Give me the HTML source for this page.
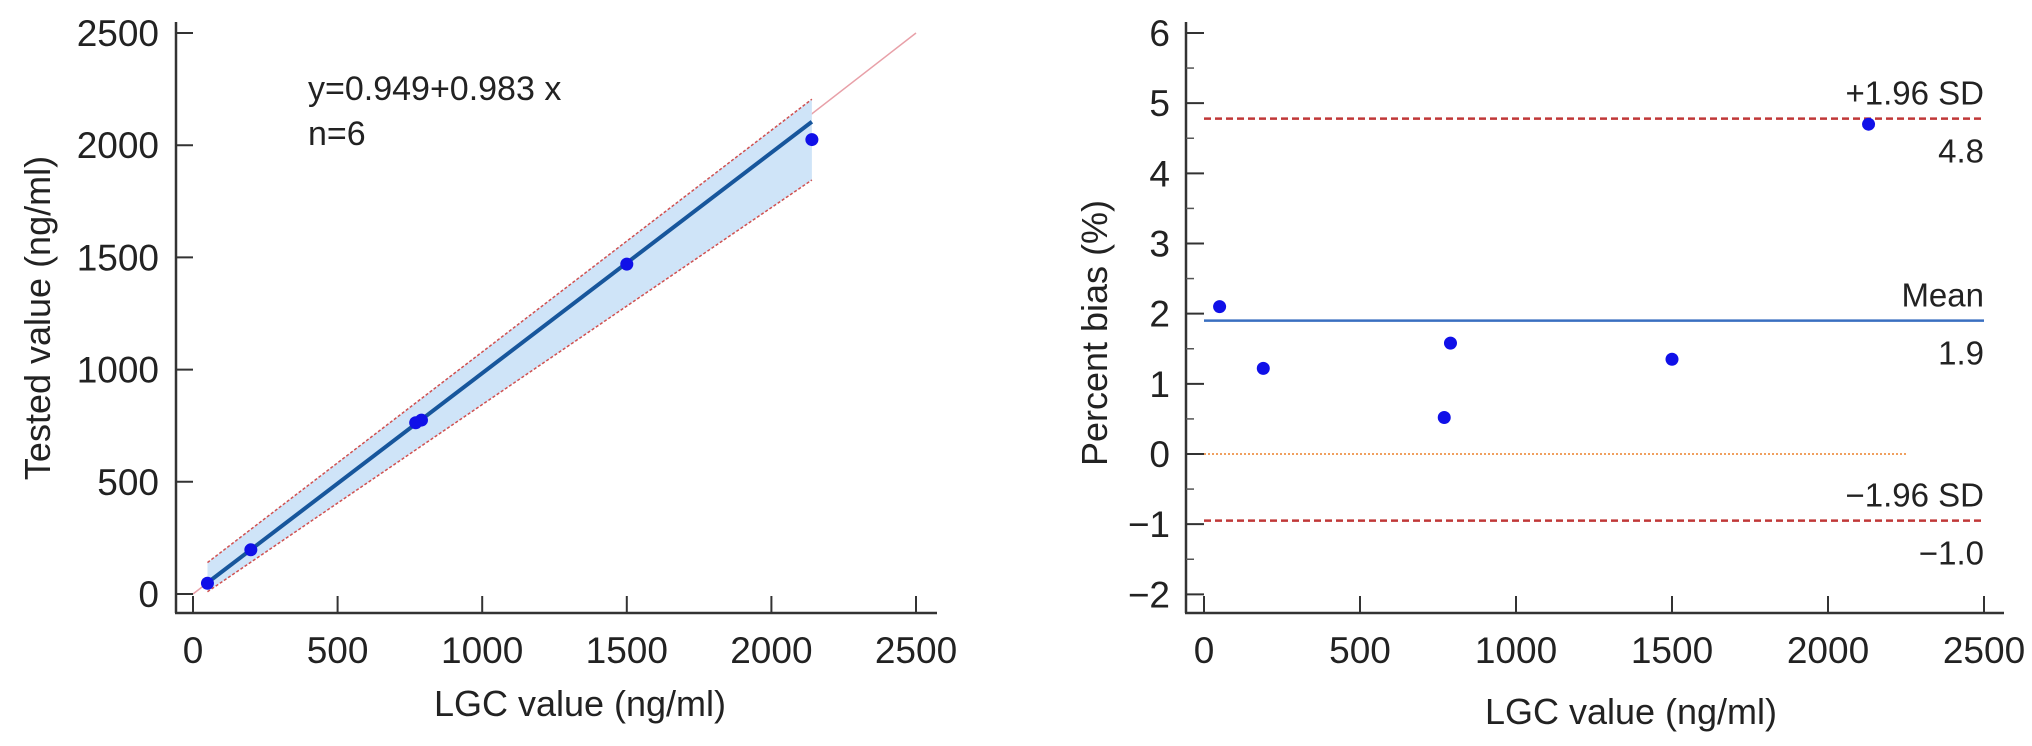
<!DOCTYPE html>
<html><head><meta charset="utf-8"><style>
html,body{margin:0;padding:0;background:#fff}
svg{display:block;font-family:"Liberation Sans",sans-serif}
</style></head><body>
<svg id="c" width="2032" height="746" viewBox="0 0 2032 746"></svg>
<script>
// Left panel data
const regX = [50, 200, 770, 790, 1500, 2140];
const regY = [48, 197, 763, 775, 1470, 2025];
const regIntercept = 0.949;
const regSlope = 0.983;
const bandX = [50, 2140];
const bandUpper = [140, 2205];
const bandLower = [10, 1845];
const leftTicks = [0, 500, 1000, 1500, 2000, 2500];
// Right panel data
const biasX = [50, 190, 770, 790, 1500, 2130];
const biasY = [2.1, 1.22, 0.52, 1.58, 1.35, 4.7];
const meanBias = 1.9;
const upperLoA = 4.78;
const lowerLoA = -0.95;
const rightXTicks = [0, 500, 1000, 1500, 2000, 2500];
const rightYTicks = [-2, -1, 0, 1, 2, 3, 4, 5, 6];
const limitLabels = ["+1.96 SD", "4.8", "Mean", "1.9", "\u22121.96 SD", "\u22121.0"];

const NS = "http://www.w3.org/2000/svg";
const svg = document.getElementById('c');
function mk(tag, attrs, parent, text){
  const e = document.createElementNS(NS, tag);
  for (const k in attrs) e.setAttribute(k, attrs[k]);
  if (text !== undefined) e.textContent = text;
  (parent || svg).appendChild(e);
  return e;
}
const lx = v => 193 + v * (916 - 193) / 2500;
const ly = v => 594 - v * (594 - 33) / 2500;
const rx = v => 1204 + v * (1984 - 1204) / 2500;
const ry = v => 454 - v * 70.17;

// ===== LEFT PANEL =====
const gL = mk('g', {});


let e = mk('line', {x1: lx(0), y1: ly(0), x2: lx(2500), y2: ly(2500), stroke: '#e8a0a8', 'stroke-width': 1.5}, gL);
 
e = mk('polygon', {points: `${lx(bandX[0])},${ly(bandUpper[0])} ${lx(bandX[1])},${ly(bandUpper[1])} ${lx(bandX[1])},${ly(bandLower[1])} ${lx(bandX[0])},${ly(bandLower[0])}`, fill: '#cfe4f8', stroke: 'none'}, gL);
 
e = mk('line', {x1: lx(bandX[0]), y1: ly(bandUpper[0]), x2: lx(bandX[1]), y2: ly(bandUpper[1]), stroke: '#d05050', 'stroke-width': 1.5, 'stroke-dasharray': '3,2'}, gL);
 
e = mk('line', {x1: lx(bandX[0]), y1: ly(bandLower[0]), x2: lx(bandX[1]), y2: ly(bandLower[1]), stroke: '#d05050', 'stroke-width': 1.5, 'stroke-dasharray': '3,2'}, gL);
 
e = mk('line', {x1: lx(regX[0]), y1: ly(regIntercept + regSlope * regX[0]), x2: lx(regX[regX.length-1]), y2: ly(regIntercept + regSlope * regX[regX.length-1]), stroke: '#17569c', 'stroke-width': 4}, gL);
 
regX.forEach((v, i) => {
  const c = mk('circle', {cx: lx(v), cy: ly(regY[i]), r: 6.5, fill: '#1010e8'}, gL);
  
  
});
e = mk('line', {x1: 176, y1: 22, x2: 176, y2: 613, stroke: '#333', 'stroke-width': 2.5}, gL);
 
e = mk('line', {x1: 175, y1: 613, x2: 937, y2: 613, stroke: '#333', 'stroke-width': 2.5}, gL);
 
leftTicks.forEach(v => {
  mk('line', {x1: 176, y1: ly(v), x2: 193, y2: ly(v), stroke: '#333', 'stroke-width': 2}, gL);
  const t = mk('text', {x: 159, y: ly(v) + 13, 'font-size': 37, 'text-anchor': 'end', fill: '#222'}, gL, String(v));
   
  mk('line', {x1: lx(v), y1: 613, x2: lx(v), y2: 596, stroke: '#333', 'stroke-width': 2}, gL);
  const t2 = mk('text', {x: lx(v), y: 663, 'font-size': 37, 'text-anchor': 'middle', fill: '#222'}, gL, String(v));
   
});
e = mk('text', {x: 308, y: 100, 'font-size': 34, fill: '#222'}, gL, 'y=0.949+0.983 x');
 
e = mk('text', {x: 308, y: 145, 'font-size': 34, fill: '#222'}, gL, 'n=6');
 
e = mk('text', {x: 580, y: 716, 'font-size': 36, 'text-anchor': 'middle', fill: '#222'}, gL, 'LGC value (ng/ml)');
 
e = mk('text', {x: 0, y: 0, 'font-size': 36, 'text-anchor': 'middle', fill: '#222', transform: 'translate(50,318) rotate(-90)'}, gL, 'Tested value (ng/ml)');
 

// ===== RIGHT PANEL =====
const gR = mk('g', {});


e = mk('line', {x1: rx(0), y1: ry(0), x2: rx(2250), y2: ry(0), stroke: '#f0a060', 'stroke-width': 2, 'stroke-dasharray': '2,2'}, gR);
 
e = mk('line', {x1: rx(0), y1: ry(meanBias), x2: rx(2500), y2: ry(meanBias), stroke: '#3a6fc0', 'stroke-width': 2.5}, gR);
 
e = mk('line', {x1: rx(0), y1: ry(upperLoA), x2: rx(2500), y2: ry(upperLoA), stroke: '#c03838', 'stroke-width': 2.5, 'stroke-dasharray': '7,4'}, gR);
 
e = mk('line', {x1: rx(0), y1: ry(lowerLoA), x2: rx(2500), y2: ry(lowerLoA), stroke: '#c03838', 'stroke-width': 2.5, 'stroke-dasharray': '7,4'}, gR);
 
biasX.forEach((v, i) => {
  const c = mk('circle', {cx: rx(v), cy: ry(biasY[i]), r: 6.5, fill: '#1010e8'}, gR);
  
  
});
e = mk('line', {x1: 1186, y1: 22, x2: 1186, y2: 613, stroke: '#333', 'stroke-width': 2.5}, gR);
 
e = mk('line', {x1: 1185, y1: 613, x2: 2004, y2: 613, stroke: '#333', 'stroke-width': 2.5}, gR);
 
rightYTicks.forEach((v, i) => {
  mk('line', {x1: 1186, y1: ry(v), x2: 1204, y2: ry(v), stroke: '#333', 'stroke-width': 2}, gR);
  if (i < rightYTicks.length - 1) mk('line', {x1: 1186, y1: ry(v + 0.5), x2: 1194, y2: ry(v + 0.5), stroke: '#555', 'stroke-width': 1.5}, gR);
  const t = mk('text', {x: 1170, y: ry(v) + 13, 'font-size': 37, 'text-anchor': 'end', fill: '#222'}, gR, v < 0 ? '\u2212' + Math.abs(v) : String(v));
   
});
rightXTicks.forEach(v => {
  mk('line', {x1: rx(v), y1: 613, x2: rx(v), y2: 596, stroke: '#333', 'stroke-width': 2}, gR);
  const t = mk('text', {x: rx(v), y: 663, 'font-size': 37, 'text-anchor': 'middle', fill: '#222'}, gR, String(v));
   
});
const limVals = [upperLoA, meanBias, lowerLoA];
limVals.forEach((v, i) => {
  const a = mk('text', {x: 1984, y: ry(v) - 14, 'font-size': 33, 'text-anchor': 'end', fill: '#222'}, gR, limitLabels[2*i]);
   
  const b = mk('text', {x: 1984, y: ry(v) + 44, 'font-size': 33, 'text-anchor': 'end', fill: '#222'}, gR, limitLabels[2*i+1]);
   
});
e = mk('text', {x: 1631, y: 724, 'font-size': 36, 'text-anchor': 'middle', fill: '#222'}, gR, 'LGC value (ng/ml)');
 
e = mk('text', {x: 0, y: 0, 'font-size': 36, 'text-anchor': 'middle', fill: '#222', transform: 'translate(1107,333) rotate(-90)'}, gR, 'Percent bias (%)');
 
</script>
</body></html>
